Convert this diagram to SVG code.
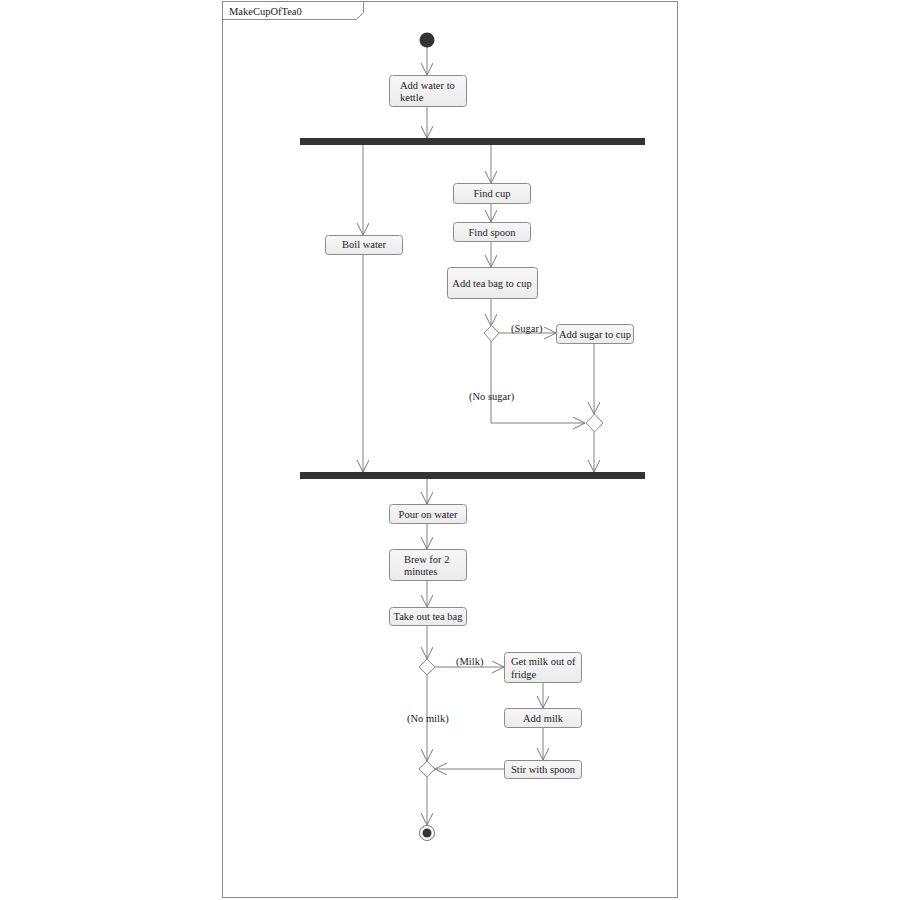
<svg xmlns="http://www.w3.org/2000/svg" width="900" height="900" viewBox="0 0 900 900">
<defs>
<marker id="arr" markerUnits="userSpaceOnUse" markerWidth="14" markerHeight="14" refX="12" refY="6" orient="auto">
<path d="M0,0 L12,6 L0,12" fill="none" stroke="#777" stroke-width="1"/>
</marker>
<linearGradient id="g" x1="0" y1="0" x2="0" y2="1">
<stop offset="0" stop-color="#f7f7f7"/>
<stop offset="1" stop-color="#ebebeb"/>
</linearGradient>
</defs>
<style>
text{font-family:"Liberation Serif","DejaVu Serif",serif;font-size:10.5px;fill:#222}
.box{fill:url(#g);stroke:#8c8c8c;stroke-width:1}
.bar{fill:#333}
.dia{fill:#fff;stroke:#888;stroke-width:1}
.c{fill:none;stroke:#808080;stroke-width:1;marker-end:url(#arr)}
.frame{fill:#fff;stroke:#8c8c8c;stroke-width:1}
.m{text-anchor:middle}
</style>
<rect width="900" height="900" fill="#fff"/>
<g id="frame">
<rect class="frame" x="222.5" y="1.5" width="455" height="896"/>
<path d="M222.5,19.5 L356.5,19.5 L363.5,12.5 L363.5,1.5" fill="none" stroke="#8c8c8c"/>
<text x="229" y="15">MakeCupOfTea0</text>
</g>
<g id="connectors">
<path class="c" d="M427,47 L427,75"/>
<path class="c" d="M427,106 L427,138"/>
<path class="c" d="M363,145 L363,235"/>
<path class="c" d="M491,145 L491,183"/>
<path class="c" d="M491,203 L491,222"/>
<path class="c" d="M491,241 L491,267"/>
<path class="c" d="M491,298 L491,326"/>
<path class="c" d="M499,333 L556,333"/>
<path class="c" d="M594,343 L594,414"/>
<path class="c" d="M491,341 L491,423 L585,423"/>
<path class="c" d="M594,432 L594,472"/>
<path class="c" d="M363,254 L363,472"/>
<path class="c" d="M427,479 L427,504"/>
<path class="c" d="M427,523 L427,549"/>
<path class="c" d="M427,580 L427,607"/>
<path class="c" d="M427,625 L427,659"/>
<path class="c" d="M435,667 L504,667"/>
<path class="c" d="M543,682 L543,708"/>
<path class="c" d="M543,727 L543,760"/>
<path class="c" d="M504,769 L435,769"/>
<path class="c" d="M427,675 L427,761"/>
<path class="c" d="M427,777 L427,825"/>
<text x="511" y="332">(Sugar)</text>
<text x="469" y="400">(No sugar)</text>
<text x="456" y="665">(Milk)</text>
<text x="407" y="722">(No milk)</text>
</g>
<g id="initial"><circle cx="427" cy="40" r="7.5" fill="#333"/></g>
<g id="addWater"><rect class="box" x="389.5" y="75.5" width="77" height="31" rx="3"/><text x="400" y="89">Add water to</text><text x="400" y="101">kettle</text></g>
<g id="fork1"><rect class="bar" x="300" y="138" width="345" height="7"/></g>
<g id="boilWater"><rect class="box" x="325.5" y="235.5" width="77" height="19" rx="3"/><text class="m" x="364" y="248">Boil water</text></g>
<g id="findCup"><rect class="box" x="453.5" y="183.5" width="77" height="20" rx="3"/><text class="m" x="492" y="197">Find cup</text></g>
<g id="findSpoon"><rect class="box" x="453.5" y="222.5" width="77" height="19" rx="3"/><text class="m" x="492" y="236">Find spoon</text></g>
<g id="addTeaBag"><rect class="box" x="447.5" y="267.5" width="90" height="31" rx="3"/><text class="m" x="492" y="287">Add tea bag to cup</text></g>
<g id="decision1"><path class="dia" d="M491.5,325.5 L499,333 L491.5,341.5 L484,333 Z"/></g>
<g id="addSugar"><rect class="box" x="556.5" y="324.5" width="77" height="19" rx="3"/><text class="m" x="595" y="338">Add sugar to cup</text></g>
<g id="merge1"><path class="dia" d="M594.5,414 L603,423 L594.5,432 L586,423 Z"/></g>
<g id="join1"><rect class="bar" x="300" y="472" width="345" height="7"/></g>
<g id="pourWater"><rect class="box" x="389.5" y="504.5" width="77" height="19" rx="3"/><text class="m" x="428" y="518">Pour on water</text></g>
<g id="brew"><rect class="box" x="389.5" y="549.5" width="77" height="31" rx="3"/><text x="404" y="563">Brew for 2</text><text x="404" y="575">minutes</text></g>
<g id="takeOut"><rect class="box" x="389.5" y="607.5" width="77" height="18" rx="3"/><text class="m" x="428" y="620">Take out tea bag</text></g>
<g id="decision2"><path class="dia" d="M427,659 L435,667 L427,675 L419,667 Z"/></g>
<g id="getMilk"><rect class="box" x="504.5" y="652.5" width="77" height="30" rx="3"/><text x="511" y="665">Get milk out of</text><text x="511" y="678">fridge</text></g>
<g id="addMilk"><rect class="box" x="504.5" y="708.5" width="77" height="19" rx="3"/><text class="m" x="543" y="722">Add milk</text></g>
<g id="stir"><rect class="box" x="504.5" y="760.5" width="77" height="18" rx="3"/><text class="m" x="543" y="773">Stir with spoon</text></g>
<g id="merge2"><path class="dia" d="M427,761 L435,769 L427,777 L419,769 Z"/></g>
<g id="final"><circle cx="427" cy="833" r="7.5" fill="#fff" stroke="#777"/><circle cx="427" cy="833" r="4.5" fill="#333"/></g>
</svg>
